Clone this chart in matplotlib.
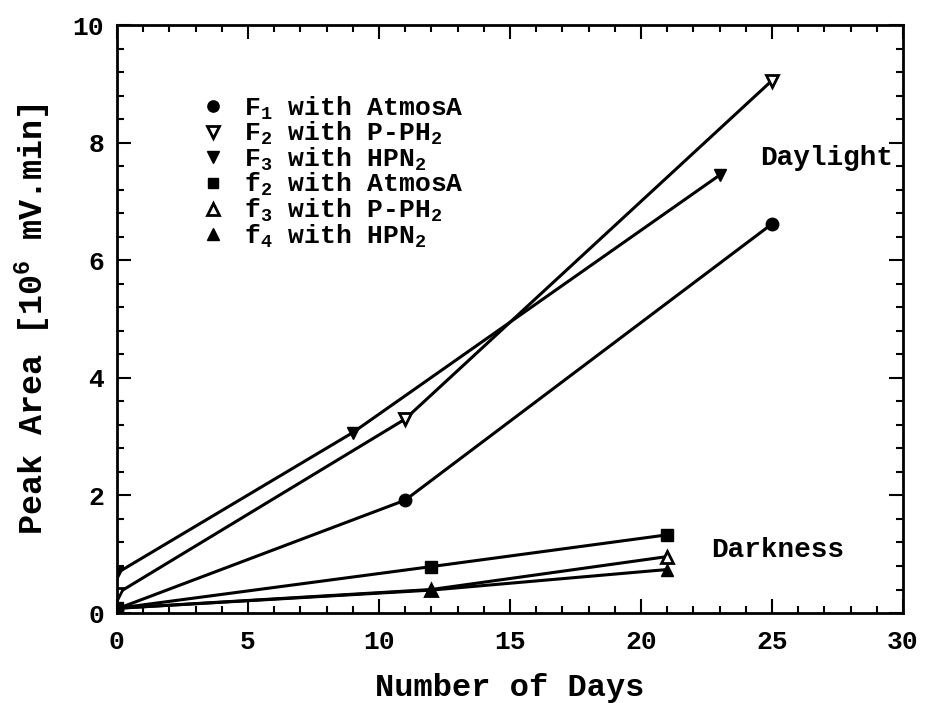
import matplotlib
matplotlib.use("Agg")
import matplotlib.pyplot as plt
from matplotlib.ticker import MultipleLocator

plt.rcParams['font.family'] = ['Liberation Mono', 'DejaVu Sans Mono']
plt.rcParams['font.weight'] = 'bold'
plt.rcParams['mathtext.fontset'] = 'custom'
plt.rcParams['mathtext.rm'] = 'Liberation Mono:bold'
plt.rcParams['mathtext.it'] = 'Liberation Mono:bold'
plt.rcParams['mathtext.bf'] = 'Liberation Mono:bold'

# Data (days, peak area in 10^6 mV.min)
F1_x = [0, 11, 25]
F1_y = [0.07, 1.92, 6.62]
F2_x = [0, 11, 25]
F2_y = [0.33, 3.30, 9.06]
F3_x = [0, 9, 23]
F3_y = [0.68, 3.07, 7.45]
f2_x = [0, 12, 21]
f2_y = [0.08, 0.79, 1.33]
f3_x = [0, 12, 21]
f3_y = [0.08, 0.40, 0.96]
f4_x = [0, 12, 21]
f4_y = [0.08, 0.39, 0.74]

labels = [r"F$_1$ with AtmosA", r"F$_2$ with P-PH$_2$", r"F$_3$ with HPN$_2$",
          r"f$_2$ with AtmosA", r"f$_3$ with P-PH$_2$", r"f$_4$ with HPN$_2$"]

fig = plt.figure(figsize=(9.28, 7.03), dpi=100)
ax = fig.add_axes([0.126, 0.128, 0.847, 0.836])

lw = 2.2
ms = 9
ax.plot(F1_x, F1_y, color='black', lw=lw, marker='o', ms=ms, label=labels[0])
ax.plot(F2_x, F2_y, color='black', lw=lw, marker='v', ms=ms, mfc='white', mew=2, label=labels[1])
ax.plot(F3_x, F3_y, color='black', lw=lw, marker='v', ms=ms, label=labels[2])
ax.plot(f2_x, f2_y, color='black', lw=lw, marker='s', ms=8, label=labels[3])
ax.plot(f3_x, f3_y, color='black', lw=lw, marker='^', ms=ms, mfc='white', mew=2, label=labels[4])
ax.plot(f4_x, f4_y, color='black', lw=lw, marker='^', ms=ms, label=labels[5])

ax.set_xlim(0, 30)
ax.set_ylim(0, 10)
ax.xaxis.set_major_locator(MultipleLocator(5))
ax.xaxis.set_minor_locator(MultipleLocator(1))
ax.yaxis.set_major_locator(MultipleLocator(2))
ax.yaxis.set_minor_locator(MultipleLocator(0.4))
ax.tick_params(which='both', direction='in', top=True, right=True, width=1.5)
ax.tick_params(which='major', length=10, labelsize=19)
ax.tick_params(axis='x', which='major', pad=12)
ax.tick_params(axis='y', which='major', pad=9)
ax.tick_params(which='minor', length=5)
for s in ax.spines.values():
    s.set_linewidth(2)

ax.set_xlabel("Number of Days", fontsize=23, fontweight='bold', labelpad=14)
ax.set_ylabel(r"Peak Area [10$^6$ mV.min]", fontsize=24, fontweight='bold', labelpad=14)

ax.text(27.1, 7.75, "Daylight", fontsize=20, fontweight='bold', ha='center', va='center')
ax.text(25.2, 1.07, "Darkness", fontsize=20, fontweight='bold', ha='center', va='center')

leg = ax.legend(loc='upper left', bbox_to_anchor=(0.105, 0.905), frameon=False,
                fontsize=19, handlelength=0, handletextpad=1.2, labelspacing=-0.06,
                markerscale=0.9, borderpad=0)
for h in leg.legend_handles:
    h.set_linestyle('None')

fig.savefig("out.png", dpi=100)
